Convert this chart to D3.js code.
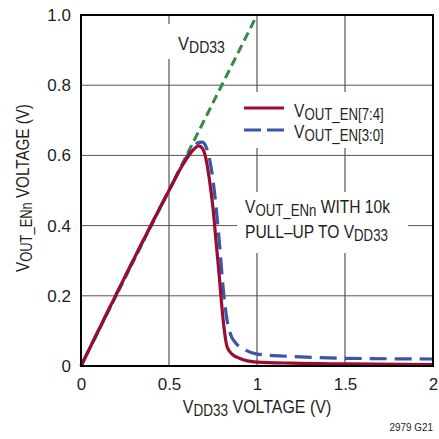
<!DOCTYPE html>
<html>
<head>
<meta charset="utf-8">
<script src="https://cdn.jsdelivr.net/npm/d3@7"></script>
<style>
  body { margin: 0; background: #fff; }
  text { font-family: "Liberation Sans", Arial, sans-serif; fill: #231f20; }
</style>
</head>
<body>
<svg id="chart" width="439" height="439"></svg>
<script>
// data
var xTicks = [0, 0.5, 1, 1.5, 2]
var xTickLabels = ["0", "0.5", "1", "1.5", "2"]
var yTicks = [0, 0.2, 0.4, 0.6, 0.8, 1.0]
var yTickLabels = ["0", "0.2", "0.4", "0.6", "0.8", "1.0"]

var vdd33_x = [0, 1]
var vdd33_y = [0, 1]

var en74_x = [0, 0.5, 0.58, 0.62, 0.65, 0.67, 0.69, 0.71, 0.73, 0.75, 0.77, 0.785, 0.795, 0.81, 0.83, 0.86, 0.9, 1.0, 1.2, 1.5, 2]
var en74_y = [0, 0.5, 0.575, 0.605, 0.622, 0.627, 0.62, 0.59, 0.53, 0.45, 0.34, 0.26, 0.2, 0.12, 0.055, 0.033, 0.022, 0.011, 0.008, 0.006, 0.004]

var en30_x = [0, 0.5, 0.6, 0.64, 0.67, 0.69, 0.71, 0.73, 0.75, 0.77, 0.79, 0.81, 0.83, 0.85, 0.88, 0.92, 1.0, 1.2, 1.5, 2]
var en30_y = [0, 0.5, 0.595, 0.625, 0.637, 0.638, 0.625, 0.59, 0.53, 0.44, 0.33, 0.21, 0.13, 0.09, 0.065, 0.05, 0.034, 0.027, 0.022, 0.02]

var svg = d3.select("#chart")
var pLeft = 81, pTop = 15, pRight = 433, pBottom = 366

var x = d3.scaleLinear().domain([0, 2]).range([pLeft, pRight])
var y = d3.scaleLinear().domain([0, 1]).range([pBottom, pTop])

// grid
var grid = svg.append("g")
grid.selectAll("line.v").data(xTicks.slice(1, -1)).enter().append("line")
  .attr("x1", d => x(d)).attr("x2", d => x(d))
  .attr("y1", pTop).attr("y2", pBottom)
  .attr("stroke", "#333").attr("stroke-width", 1)
grid.selectAll("line.h").data(yTicks.slice(1, -1)).enter().append("line")
  .attr("x1", pLeft).attr("x2", pRight)
  .attr("y1", d => y(d)).attr("y2", d => y(d))
  .attr("stroke", "#555").attr("stroke-width", 1)

// white boxes behind labels
var boxes = [[160, 24, 72, 35], [238, 92, 188, 56], [237, 192, 171, 61]]
svg.append("g").selectAll("rect").data(boxes).enter().append("rect")
  .attr("x", d => d[0]).attr("y", d => d[1]).attr("width", d => d[2]).attr("height", d => d[3])
  .attr("fill", "#fff")

// lines
function pts(xs, ys) { return xs.map((v, i) => [v, ys[i]]) }
var line = d3.line().x(d => x(d[0])).y(d => y(d[1])).curve(d3.curveMonotoneX)

svg.append("path").datum(pts(vdd33_x, vdd33_y)).attr("d", line)
  .attr("fill", "none").attr("stroke", "#2e8b47").attr("stroke-width", 3).attr("stroke-dasharray", "9,5")
svg.append("path").datum(pts(en30_x, en30_y)).attr("d", line)
  .attr("fill", "none").attr("stroke", "#3a56a6").attr("stroke-width", 3.2).attr("stroke-dasharray", "17,8")
svg.append("path").datum(pts(en74_x, en74_y)).attr("d", line)
  .attr("fill", "none").attr("stroke", "#9a0b35").attr("stroke-width", 3.2)

// frame
svg.append("rect").attr("x", pLeft).attr("y", pTop).attr("width", pRight - pLeft).attr("height", pBottom - pTop)
  .attr("fill", "none").attr("stroke", "#000").attr("stroke-width", 2)

// axes tick labels
var xAxis = d3.axisBottom(x).tickValues(xTicks).tickFormat((d, i) => xTickLabels[i]).tickSize(0).tickPadding(12)
var gx = svg.append("g").attr("transform", "translate(0," + pBottom + ")").call(xAxis)
gx.select(".domain").remove()
gx.selectAll("text").style("font-size", "17px").attr("fill", "#231f20")

var yAxis = d3.axisLeft(y).tickValues(yTicks).tickFormat((d, i) => yTickLabels[i]).tickSize(0).tickPadding(10)
var gy = svg.append("g").attr("transform", "translate(" + pLeft + ",0)").call(yAxis)
gy.select(".domain").remove()
gy.selectAll("text").style("font-size", "17px").attr("fill", "#231f20")

// narrow text with subscript
function subText(g, px, py, parts, size, anchor, sx) {
  var t = g.append("text")
    .attr("transform", "translate(" + px + "," + py + ") scale(" + (sx || 0.83) + ",1)")
    .style("font-size", size + "px")
  if (anchor) t.attr("text-anchor", anchor)
  parts.forEach(function(p) {
    var s = t.append("tspan").text(p[0])
    if (p[1] == "sub") s.attr("dy", 3).style("font-size", (size * 0.85) + "px")
    if (p[1] == "up") s.attr("dy", -3)
  })
  return t
}

subText(svg, 257, 413, [["V"], ["DD33", "sub"], [" VOLTAGE (V)", "up"]], 19, "middle", 0.84)

var yt = svg.append("g").attr("transform", "translate(29,188) rotate(-90)")
subText(yt, 0, 0, [["V"], ["OUT_ENn", "sub"], [" VOLTAGE (V)", "up"]], 19, "middle", 0.8)

subText(svg, 178, 50, [["V"], ["DD33", "sub"]], 19, null, 0.87)

// legend
svg.append("line").attr("x1", 244).attr("x2", 284).attr("y1", 108).attr("y2", 108)
  .attr("stroke", "#9a0b35").attr("stroke-width", 3.2)
svg.append("line").attr("x1", 244).attr("x2", 284).attr("y1", 130).attr("y2", 130)
  .attr("stroke", "#3a56a6").attr("stroke-width", 3.2).attr("stroke-dasharray", "17,6")
subText(svg, 294, 117, [["V"], ["OUT_EN[7:4]", "sub"]], 19, null, 0.82)
subText(svg, 294, 138, [["V"], ["OUT_EN[3:0]", "sub"]], 19, null, 0.82)

// annotation
subText(svg, 245, 213, [["V"], ["OUT_ENn", "sub"], [" WITH 10k", "up"]], 19, null, 0.82)
subText(svg, 245, 238, [["PULL\u2013UP TO V"], ["DD33", "sub"]], 19, null, 0.82)

subText(svg, 433, 431, [["2979 G21"]], 11, "end", 0.9)
</script>
</body>
</html>
